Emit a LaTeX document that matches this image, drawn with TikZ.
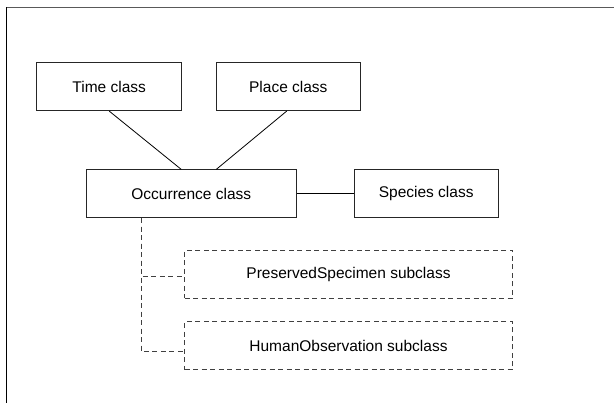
\documentclass[tikz,border=0pt]{standalone}
\usepackage{fontspec}
\setmainfont{Liberation Sans}
\begin{document}
\begin{tikzpicture}[x=1pt, y=-1pt, line width=0.8pt, font=\fontsize{15.5}{18}\selectfont,
		cls/.style={rectangle, draw=black!85, minimum height=48pt, inner sep=0pt},
		sub/.style={cls, dash pattern=on 5pt off 3.5pt, draw=black!75, minimum width=328pt},
		dsh/.style={dash pattern=on 5pt off 3.5pt, draw=black!75}]
		\useasboundingbox (0,0) rectangle (614,403);
		\draw[gray!70!black] (614,7.5) -- (6,7.5);
		\draw[black] (6,7.5) -- (6,403);
	
		\node[cls, minimum width=145pt] (T) at (109.2,86.7) {Time class};
		\node[cls, minimum width=143.3pt] (P) at (288.3,86.7) {Place class};
	
		\node[cls, minimum width=144.3pt] (S) at (426.2,193.8) {Species class};
		\node[cls, minimum width=210.7pt] (O) at (191.3,193.8) {Occurrence class} edge (S);
		\coordinate (OT) at ([xshift=95.7pt]O.north west);
		\coordinate (OP) at ([xshift=130.7pt]O.north west);
		\draw (T.south) -- (OT);
		\draw ([xshift=-1.6pt]P.south) -- (OP);
	
		\node[sub] (PS) at (348.5,274.3) {PreservedSpecimen subclass};
		\node[sub] (HO) at (348.5,345.8) {HumanObservation subclass};
		\coordinate (D) at ([xshift=55.7pt]O.south west);
		\draw[dsh] (D) |- ([yshift=-1.7pt]PS.west);
		\draw[dsh] (D) |- ([yshift=-5.9pt]HO.west);
	\end{tikzpicture}
\end{document}
